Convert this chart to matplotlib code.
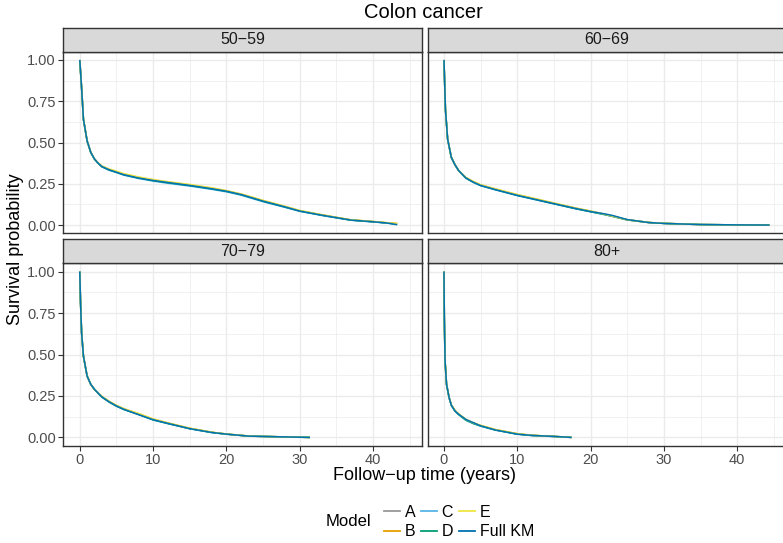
import matplotlib
matplotlib.use("Agg")
import matplotlib.pyplot as plt
from matplotlib.lines import Line2D

plt.rcParams['font.family'] = ['Liberation Sans', 'DejaVu Sans']

# ---- data ----
models = ["A", "B", "C", "D", "E", "Full KM"]
model_colors = ["#999999", "#E69F00", "#56B4E9", "#009E73", "#F0E442", "#0072B2"]
panel_titles = ["50\u221259", "60\u221269", "70\u221279", "80+"]

t_5059 = [0, 0.25, 0.5, 1, 1.5, 2, 2.5, 3, 4, 5, 6, 8, 10, 12, 15, 18, 20, 22, 25, 28, 30, 33, 35, 37, 40, 42, 43.3]
s_5059 = {
    "A":       [1.0, 0.83, 0.64, 0.51, 0.44, 0.40, 0.375, 0.355, 0.335, 0.322, 0.307, 0.287, 0.272, 0.259, 0.241, 0.221, 0.206, 0.186, 0.146, 0.111, 0.086, 0.061, 0.046, 0.031, 0.021, 0.013, 0.008],
    "B":       [1.0, 0.83, 0.64, 0.51, 0.44, 0.40, 0.376, 0.356, 0.336, 0.323, 0.308, 0.288, 0.273, 0.260, 0.243, 0.223, 0.207, 0.187, 0.148, 0.112, 0.087, 0.062, 0.046, 0.031, 0.021, 0.013, 0.009],
    "C":       [1.0, 0.83, 0.64, 0.51, 0.44, 0.40, 0.374, 0.353, 0.332, 0.318, 0.302, 0.282, 0.266, 0.253, 0.236, 0.216, 0.201, 0.181, 0.141, 0.107, 0.083, 0.058, 0.043, 0.029, 0.019, 0.011, 0.004],
    "D":       [1.0, 0.83, 0.64, 0.51, 0.44, 0.40, 0.375, 0.354, 0.333, 0.320, 0.305, 0.285, 0.269, 0.256, 0.239, 0.219, 0.204, 0.184, 0.144, 0.109, 0.085, 0.060, 0.045, 0.030, 0.020, 0.012, 0.006],
    "E":       [1.0, 0.83, 0.64, 0.51, 0.44, 0.40, 0.377, 0.358, 0.340, 0.327, 0.312, 0.292, 0.276, 0.263, 0.246, 0.226, 0.209, 0.189, 0.150, 0.114, 0.089, 0.063, 0.047, 0.032, 0.022, 0.014, 0.010],
    "Full KM": [1.0, 0.83, 0.64, 0.51, 0.44, 0.40, 0.375, 0.355, 0.335, 0.320, 0.305, 0.285, 0.270, 0.258, 0.240, 0.220, 0.205, 0.185, 0.145, 0.110, 0.085, 0.060, 0.045, 0.030, 0.020, 0.012, 0.002],
}

t_6069 = [0, 0.2, 0.5, 1, 1.5, 2, 3, 4, 5, 7, 10, 12, 15, 18, 20, 22, 23, 25, 28, 30, 35, 40, 44.4]
s_6069 = {
    "A":       [1.0, 0.70, 0.52, 0.41, 0.365, 0.33, 0.286, 0.262, 0.242, 0.217, 0.182, 0.162, 0.131, 0.101, 0.083, 0.064, 0.054, 0.032, 0.015, 0.010, 0.003, 0.001, 0.0],
    "B":       [1.0, 0.70, 0.52, 0.41, 0.366, 0.33, 0.287, 0.263, 0.243, 0.218, 0.183, 0.163, 0.132, 0.102, 0.084, 0.064, 0.053, 0.031, 0.015, 0.010, 0.003, 0.001, 0.0],
    "C":       [1.0, 0.70, 0.52, 0.41, 0.364, 0.33, 0.283, 0.258, 0.238, 0.213, 0.178, 0.158, 0.128, 0.098, 0.080, 0.062, 0.052, 0.031, 0.015, 0.010, 0.003, 0.001, 0.0],
    "D":       [1.0, 0.70, 0.52, 0.41, 0.365, 0.33, 0.284, 0.260, 0.240, 0.215, 0.180, 0.160, 0.129, 0.099, 0.081, 0.063, 0.053, 0.032, 0.015, 0.010, 0.003, 0.001, 0.0],
    "E":       [1.0, 0.70, 0.52, 0.41, 0.366, 0.33, 0.288, 0.264, 0.244, 0.220, 0.185, 0.165, 0.134, 0.103, 0.085, 0.065, 0.054, 0.032, 0.016, 0.011, 0.003, 0.001, 0.0],
    "Full KM": [1.0, 0.70, 0.52, 0.41, 0.365, 0.33, 0.285, 0.260, 0.240, 0.215, 0.180, 0.160, 0.130, 0.100, 0.082, 0.067, 0.058, 0.033, 0.015, 0.010, 0.003, 0.001, 0.0],
}

t_7079 = [0, 0.1, 0.25, 0.5, 1, 1.5, 2, 3, 4, 5, 6, 8, 10, 12, 15, 18, 20, 23, 25, 28, 31.4]
s_7079 = {
    "A":       [1.0, 0.82, 0.63, 0.49, 0.37, 0.32, 0.29, 0.246, 0.216, 0.191, 0.171, 0.142, 0.109, 0.086, 0.054, 0.031, 0.020, 0.008, 0.006, 0.003, 0.0],
    "B":       [1.0, 0.82, 0.63, 0.49, 0.37, 0.32, 0.29, 0.247, 0.217, 0.192, 0.172, 0.143, 0.110, 0.087, 0.055, 0.031, 0.020, 0.008, 0.006, 0.003, 0.0],
    "C":       [1.0, 0.82, 0.63, 0.49, 0.37, 0.32, 0.29, 0.243, 0.213, 0.188, 0.168, 0.138, 0.105, 0.083, 0.052, 0.029, 0.019, 0.008, 0.005, 0.003, 0.0],
    "D":       [1.0, 0.82, 0.63, 0.49, 0.37, 0.32, 0.29, 0.244, 0.214, 0.189, 0.169, 0.139, 0.106, 0.084, 0.053, 0.030, 0.020, 0.008, 0.006, 0.003, 0.0],
    "E":       [1.0, 0.82, 0.63, 0.49, 0.37, 0.32, 0.29, 0.248, 0.218, 0.194, 0.174, 0.145, 0.112, 0.088, 0.056, 0.032, 0.021, 0.009, 0.006, 0.003, 0.0],
    "Full KM": [1.0, 0.82, 0.63, 0.49, 0.37, 0.32, 0.29, 0.245, 0.215, 0.190, 0.170, 0.138, 0.107, 0.085, 0.053, 0.030, 0.020, 0.008, 0.006, 0.003, 0.0],
}

t_80 = [0, 0.05, 0.15, 0.35, 0.7, 1, 1.5, 2, 3, 4, 5, 7, 10, 12, 15, 17.4]
s_80 = {
    "A":       [1.0, 0.72, 0.46, 0.32, 0.24, 0.195, 0.161, 0.140, 0.106, 0.086, 0.071, 0.046, 0.021, 0.012, 0.006, 0.0],
    "B":       [1.0, 0.72, 0.46, 0.32, 0.24, 0.196, 0.162, 0.141, 0.107, 0.087, 0.072, 0.047, 0.022, 0.013, 0.006, 0.0],
    "C":       [1.0, 0.72, 0.46, 0.32, 0.24, 0.193, 0.158, 0.137, 0.103, 0.083, 0.068, 0.044, 0.019, 0.011, 0.005, 0.0],
    "D":       [1.0, 0.72, 0.46, 0.32, 0.24, 0.194, 0.159, 0.138, 0.104, 0.084, 0.069, 0.045, 0.020, 0.012, 0.006, 0.0],
    "E":       [1.0, 0.72, 0.46, 0.32, 0.24, 0.197, 0.163, 0.142, 0.109, 0.088, 0.073, 0.048, 0.023, 0.013, 0.006, 0.0],
    "Full KM": [1.0, 0.72, 0.46, 0.32, 0.24, 0.195, 0.160, 0.140, 0.108, 0.089, 0.070, 0.045, 0.020, 0.012, 0.006, 0.0],
}

panel_data = [(t_5059, s_5059), (t_6069, s_6069), (t_7079, s_7079), (t_80, s_80)]

x_max = 44.4
x_ticks = [0, 10, 20, 30, 40]
x_minor = [5, 15, 25, 35, 45]
y_ticks = [0, 0.25, 0.5, 0.75, 1.0]
y_minor = [0.125, 0.375, 0.625, 0.875]

# ---- layout (pixels) ----
W, H = 783, 543
fig = plt.figure(figsize=(W / 100, H / 100), dpi=100)


def box(l, t, r, b):
    return [l / W, 1 - b / H, (r - l) / W, (b - t) / H]


cols = [(63.5, 421.5), (427.7, 785.7)]
rows = [(27.7, 51.7, 233.3), (239.3, 263.3, 445.7)]

grey20 = "#333333"
for i, (t, surv) in enumerate(panel_data):
    r, c = divmod(i, 2)
    l, rr = cols[c]
    st, pt, pb = rows[r]

    ax = fig.add_axes(box(l, pt, rr, pb))
    ax.set_xlim(-0.05 * x_max, 1.05 * x_max)
    ax.set_ylim(-0.05, 1.05)
    ax.set_xticks(x_ticks)
    ax.set_xticks(x_minor, minor=True)
    ax.set_yticks(y_ticks)
    ax.set_yticks(y_minor, minor=True)
    ax.grid(True, which="major", color="#EBEBEB", lw=1.0)
    ax.grid(True, which="minor", color="#EBEBEB", lw=0.5)
    ax.set_axisbelow(True)
    for sp in ax.spines.values():
        sp.set_color(grey20)
        sp.set_linewidth(1.0)
    ax.tick_params(which="minor", length=0)
    ax.tick_params(which="major", length=3.5, color=grey20, width=0.8,
                   labelsize=10.5, labelcolor="#4D4D4D", pad=2)
    if c == 1:
        ax.tick_params(axis="y", labelleft=False, length=0)
    else:
        ax.set_yticklabels(["0.00", "0.25", "0.50", "0.75", "1.00"])
    if r == 0:
        ax.tick_params(axis="x", labelbottom=False, length=0)

    for m, col in zip(models, model_colors):
        ax.plot(t, surv[m], color=col, lw=1.1, solid_capstyle="butt")

    # facet strip
    sax = fig.add_axes(box(l, st, rr, pt))
    sax.set_facecolor("#D9D9D9")
    sax.set_xticks([])
    sax.set_yticks([])
    for sp in sax.spines.values():
        sp.set_color(grey20)
        sp.set_linewidth(1.0)
    sax.text(0.5, 0.5, panel_titles[i], transform=sax.transAxes,
             ha="center", va="center", fontsize=11.5, color="#1A1A1A")

fig.text(423 / W, 1 - 13 / H, "Colon cancer", ha="center", va="center",
         fontsize=14.5, color="black")
fig.text(424 / W, 1 - 475 / H, "Follow\u2212up time (years)",
         ha="center", va="center", fontsize=13, color="black")
fig.text(16 / W, 1 - 249 / H, "Survival probability", ha="center",
         va="center", rotation=90, fontsize=13, color="black")

handles = [Line2D([0], [0], color=col, lw=1.3) for col in model_colors]
fig.legend(handles, models, ncol=3, loc="center left",
           bbox_to_anchor=(376 / W, 1 - 522 / H), frameon=False,
           fontsize=11.5, handlelength=1.0, handletextpad=0.3,
           columnspacing=0.35, labelspacing=0.3, borderpad=0.0)
fig.text(348 / W, 1 - 522 / H, "Model", ha="center", va="center",
         fontsize=12, color="black")

fig.savefig("out.png", dpi=100)
